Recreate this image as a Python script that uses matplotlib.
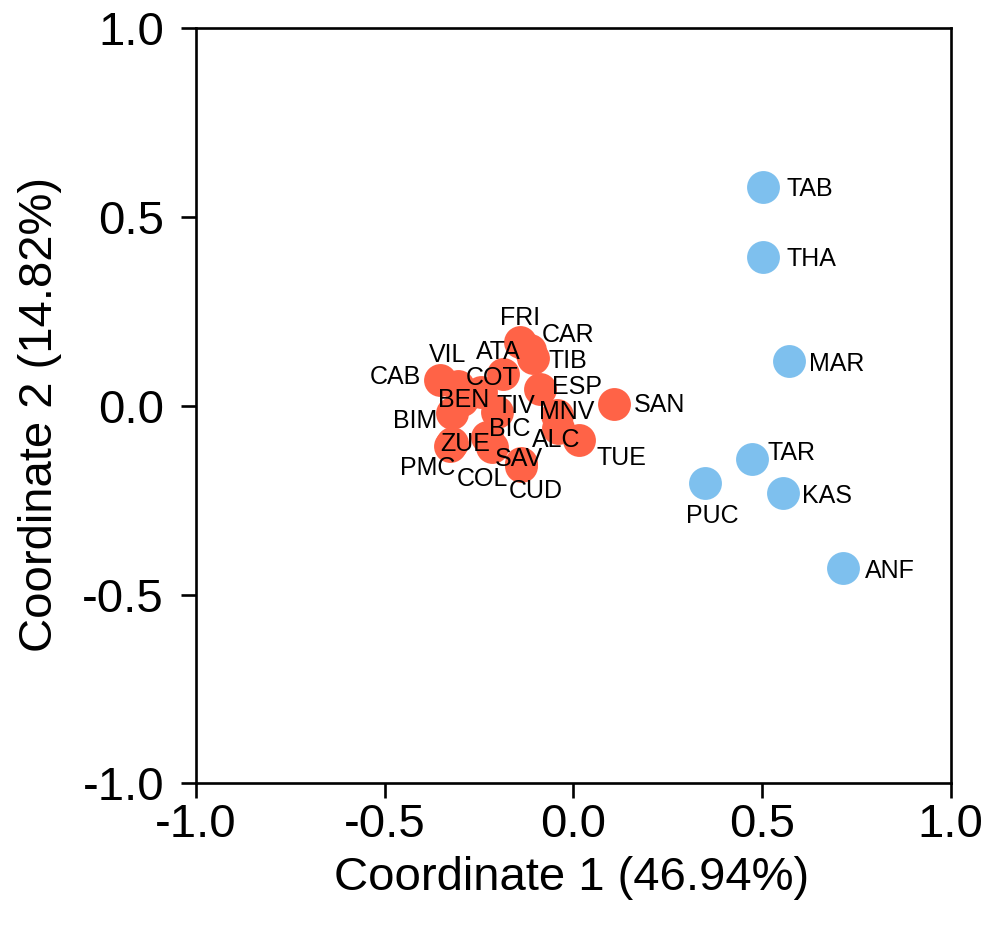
import numpy as np
import matplotlib
matplotlib.use("Agg")
from matplotlib import pyplot as plt

plt.rcParams['font.family'] = ['Liberation Sans', 'DejaVu Sans']

# PCoA scores, group 1 (red)
red_names = ["FRI", "CAR", "TIB", "VIL", "ATA", "CAB", "COT", "ESP", "SAN", "BEN", "TIV",
             "MNV", "BIM", "BIC", "ALC", "TUE", "ZUE", "SAV", "PMC", "COL", "CUD"]
red_x = [-0.142, -0.115, -0.107, -0.306, -0.187, -0.354, -0.245, -0.088, 0.108, -0.295, -0.202,
         -0.043, -0.322, -0.229, -0.041, 0.015, -0.322, -0.139, -0.327, -0.216, -0.139]
red_y = [0.169, 0.148, 0.127, 0.052, 0.084, 0.068, 0.037, 0.045, 0.005, 0.015, -0.016,
         -0.024, -0.019, -0.083, -0.059, -0.090, -0.099, -0.151, -0.107, -0.109, -0.159]

# PCoA scores, group 2 (blue)
blue_names = ["TAB", "THA", "MAR", "TAR", "PUC", "KAS", "ANF"]
blue_x = [0.502, 0.503, 0.572, 0.473, 0.349, 0.555, 0.714]
blue_y = [0.580, 0.395, 0.119, -0.141, -0.204, -0.232, -0.429]

pct1 = 46.94
pct2 = 14.82

# label offsets from each point, in pixels (right, down)
label_shift = {
    "FRI": (0, -27), "CAR": (38, -17), "TIB": (35, 1), "VIL": (-10, -34), "ATA": (-4, -25),
    "CAB": (-44, -6), "COT": (11, -16), "ESP": (37, -4), "SAN": (45, -1), "BEN": (2, -3),
    "TIV": (19, -8), "MNV": (10, -5), "BIM": (-37, 6), "BIC": (23, -11), "ALC": (-2, 9),
    "TUE": (42, 16), "ZUE": (13, -2), "SAV": (-2, -6), "PMC": (-22, 19), "COL": (-9, 30),
    "CUD": (15, 23),
    "TAB": (47, 0), "THA": (48, 0), "MAR": (47, 1), "TAR": (40, -9), "KAS": (44, 0),
    "PUC": (7, 31), "ANF": (47, 1),
}

red_col = "#FF6347"
blue_col = "#7EC0EE"

fig = plt.figure(figsize=(9.89, 9.26), dpi=100)
ax = fig.add_axes([196 / 989, 1 - 783.3 / 926, 754.7 / 989, 755 / 926])

ax.scatter(red_x, red_y, s=560, color=red_col, linewidths=0, zorder=2)
ax.scatter(blue_x, blue_y, s=560, color=blue_col, linewidths=0, zorder=2)

px2pt = 72 / 100
for names, xs, ys in [(red_names, red_x, red_y), (blue_names, blue_x, blue_y)]:
    for n, x, y in zip(names, xs, ys):
        dx, dy = label_shift[n]
        ax.annotate(n, (x, y), xytext=(dx * px2pt, -dy * px2pt), textcoords="offset points",
                    ha="center", va="center_baseline", fontsize=18, color="black", zorder=3)

ax.set_xlim(-1, 1)
ax.set_ylim(-1, 1)
ticks = np.arange(-1, 1.01, 0.5)
ax.set_xticks(ticks)
ax.set_yticks(ticks)
ax.set_xticklabels([f"{t:.1f}" for t in ticks])
ax.set_yticklabels([f"{t:.1f}" for t in ticks])
ax.tick_params(axis="both", length=11, width=1.9, labelsize=34, direction="out")
ax.tick_params(axis="x", pad=3)
ax.tick_params(axis="y", pad=12)
for sp in ax.spines.values():
    sp.set_linewidth(1.9)

fig.text(572 / 989, 1 - 878 / 926, f"Coordinate 1 ({pct1:.2f}%)", fontsize=34,
         ha="center", va="center")
fig.text(40 / 989, 1 - 414 / 926, f"Coordinate 2 ({pct2:.2f}%)", fontsize=34,
         ha="center", va="center", rotation=90)

fig.savefig("out.png", dpi=100)
